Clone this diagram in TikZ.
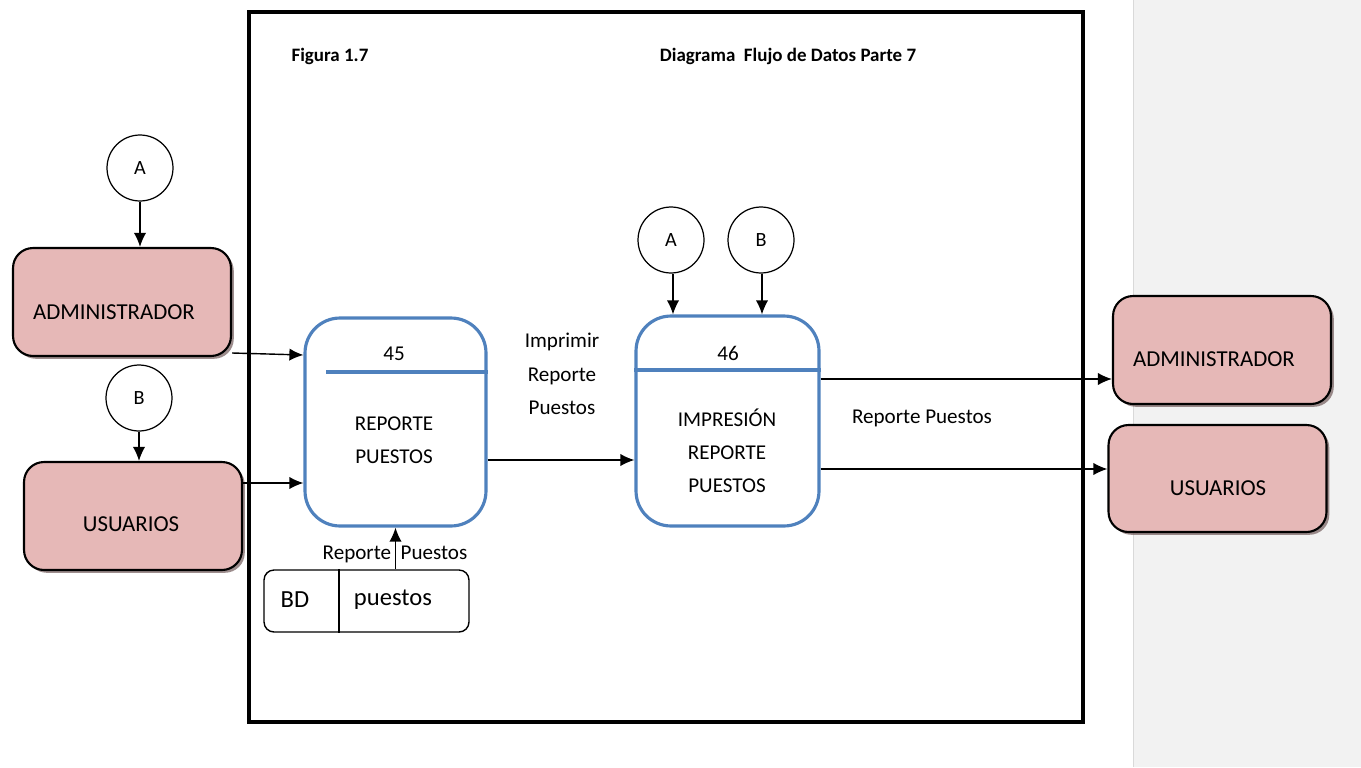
\documentclass[tikz,border=0pt]{standalone}
\usepackage{fontspec}
\setmainfont{Carlito}
\usetikzlibrary{shadows,arrows.meta}

\definecolor{rosa}{HTML}{E6B8B7}
\definecolor{azul}{HTML}{4F81BD}
\definecolor{fondo}{HTML}{F2F2F2}

\tikzset{
    ext/.style={draw=black, line width=1.2pt, fill=rosa, rounded corners=0.4cm,
        minimum width=4.36cm, minimum height=2.16cm,
        drop shadow={shadow xshift=1.6pt, shadow yshift=-1.6pt, fill=black!50!rosa, opacity=0.7}},
    proc/.style={draw=azul, line width=1.8pt, rounded corners=0.7cm,
        minimum width=3.62cm, minimum height=4.16cm},
    conector/.style={draw, circle, line width=0.7pt, minimum size=1.32cm, inner sep=0pt,
        font=\fontsize{11.5}{13}\selectfont},
    flujo/.style={-{Latex[length=8pt,width=7pt]}, line width=0.8pt},
    txt/.style={font=\fontsize{12}{19}\selectfont, align=center},
    grande/.style={font=\fontsize{13}{16}\selectfont},
    titulo/.style={font=\fontsize{10.8}{12}\selectfont\bfseries},
}

\begin{document}
\begin{tikzpicture}[x=0.02cm, y=-0.02cm]
            \useasboundingbox (0, 0) rectangle (1361, 767);
            \fill[fondo] (1133, 0) rectangle (1361, 767);
            \draw[black!15] (1133, 0) -- (1133, 767);
            \draw[line width=2pt] (249, 12) rectangle (1083, 722);
            \node[titulo] (fig) at (330, 56) {Figura 1.7};
            \node[titulo] (tit) at (788, 56) {Diagrama\ \ Flujo de Datos Parte 7};

            \node[ext] (admL) at (122, 302) {};
            \node[grande] (admLt) at (114, 312) {ADMINISTRADOR};
            \node[ext] (usuL) at (133, 516) {};
            \node[grande] (usuLt) at (131, 524) {USUARIOS};
            \node[ext] (admR) at (1222, 350) {};
            \node[grande] (admRt) at (1214, 359) {ADMINISTRADOR};
            \node[ext, minimum height=2.14cm] (usuR) at (1217.5, 478.5) {};
            \node[grande] (usuRt) at (1218, 488) {USUARIOS};

            \node[conector] (A1) at (140, 168) {A};
            \node[conector] (B1) at (139, 398) {B};
            \node[conector] (A2) at (671, 240) {A};
            \node[conector] (B2) at (761, 240) {B};

            \node[proc] (p45) at (395.5, 422) {};
            \node[txt] (n45) at (394, 354) {45};
            \draw[azul, line width=1.9pt] (326, 372) -- (p45.east |- 0, 372);
            \node[txt] (t45) at (394, 440) {REPORTE\\PUESTOS};

            \node[proc, minimum width=3.66cm, minimum height=4.2cm] (p46) at (727.5, 421) {};
            \node[txt] (n46) at (728, 353) {46};
            \draw[azul, line width=1.9pt] (p46.west |- 0, 370) -- (p46.east |- 0, 370);
            \node[txt, font=\fontsize{12}{18.7}\selectfont] (t46) at (727, 451) {IMPRESIÓN\\REPORTE\\PUESTOS};

            \node[draw, line width=0.8pt, rounded corners=0.2cm, minimum width=4.1cm,
                minimum height=1.24cm] (bd) at (366.5, 601) {};
            \draw[line width=0.8pt] (339, 0 |- bd.north) -- (339, 0 |- bd.south);
            \node[font=\fontsize{14}{16}\selectfont] (bdt) at (295, 600) {BD};
            \node[font=\fontsize{14}{16}\selectfont] (bdp) at (393, 600) {puestos};

            \draw[flujo] (A1) -- (A1.south |- admL.north);
            \draw[flujo] (B1) -- (B1.south |- usuL.north);
            \draw[flujo] (admL.east |- 0, 353) -- (p45.west |- 0, 355);
            \draw[flujo] (usuL.east |- 0, 483) -- (p45.west |- 0, 483);
            \draw[flujo] (p45.south |- bd.north) -- (p45.south);
            \node[txt] (lbd) at (395, 554) {Reporte\ \ Puestos};
            \draw[flujo] (p45.east |- 0, 460) -- (p46.west |- 0, 460);
            \node[txt] (lim) at (562, 374) {Imprimir\\Reporte\\Puestos};
            \draw[flujo] (A2.south -| 673, 0) -- (673, 0 |- p46.north);
            \draw[flujo] (B2.south -| 762, 0) -- (762, 0 |- p46.north);
            \draw[flujo] (p46.east |- 0, 379) -- (admR.west |- 0, 379);
            \draw[flujo] (p46.east |- 0, 469) -- (usuR.west |- 0, 469);
            \node[txt] (lrp) at (922, 418) {Reporte Puestos};
        \end{tikzpicture}
\end{document}
